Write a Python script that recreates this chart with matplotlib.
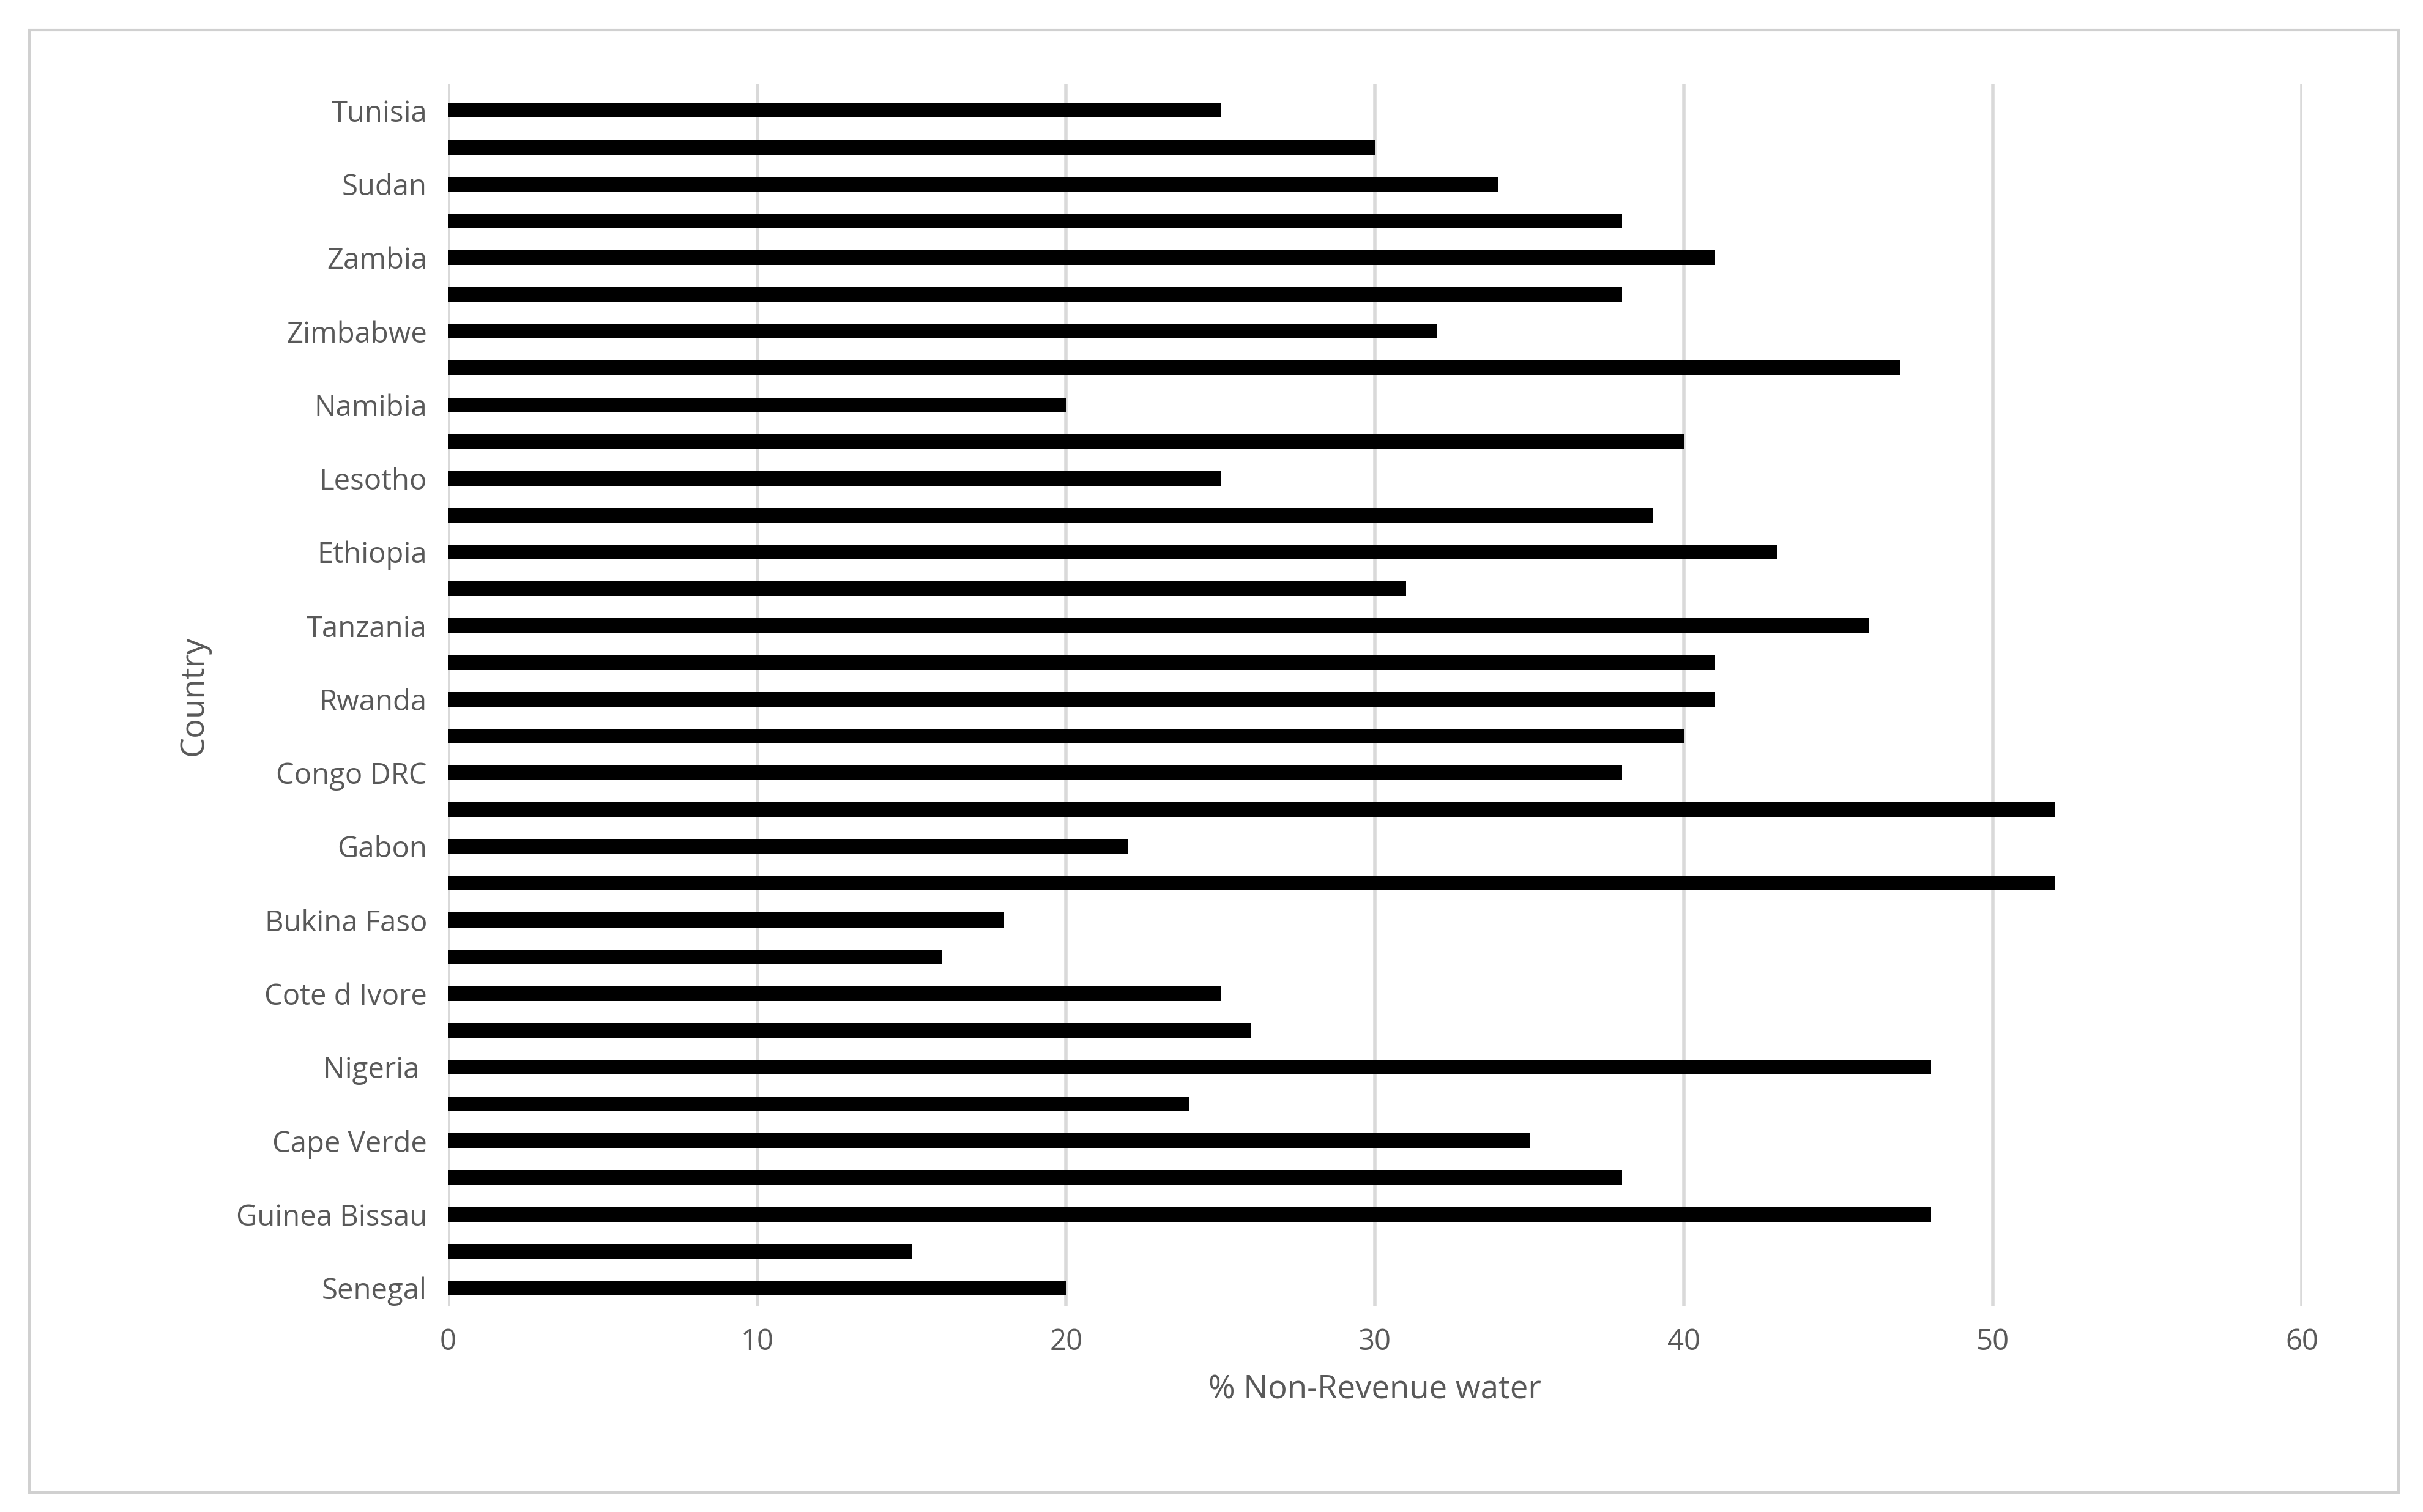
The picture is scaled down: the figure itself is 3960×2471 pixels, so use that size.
import matplotlib
matplotlib.use("Agg")
import matplotlib.pyplot as plt
from matplotlib.patches import Rectangle

countries = ["Tunisia", "", "Sudan", "", "Zambia", "", "Zimbabwe", "", "Namibia", "",
             "Lesotho", "", "Ethiopia", "", "Tanzania", "", "Rwanda", "", "Congo DRC", "",
             "Gabon", "", "Bukina Faso", "", "Cote d Ivore", "", "Nigeria ", "", "Cape Verde", "",
             "Guinea Bissau", "", "Senegal"]
values = [25, 30, 34, 38, 41, 38, 32, 47, 20, 40, 25, 39, 43, 31, 46, 41, 41, 40, 38, 52,
          22, 52, 18, 16, 25, 26, 48, 24, 35, 38, 48, 15, 20]
xticks = [0, 10, 20, 30, 40, 50, 60]

plt.rcParams['font.family'] = ['Open Sans', 'DejaVu Sans']
gray = "#595959"
fig = plt.figure(figsize=(39.6, 24.71), dpi=100)
fig.patches.append(Rectangle((0.012, 0.013), 0.978, 0.967, transform=fig.transFigure,
                             fill=False, edgecolor="#d0d0d0", linewidth=3))
ax = fig.add_axes([0.185, 0.136, 0.765, 0.808])
n = len(values)
ypos = list(range(n - 1, -1, -1))
ax.barh(ypos, values, height=0.4, color="black", zorder=3)
ax.set_yticks(ypos)
ax.set_yticklabels(countries, fontsize=34, color=gray)
ax.set_xticks(xticks)
ax.set_xticklabels([str(t) for t in xticks], fontsize=34, color=gray)
ax.set_xlim(0, 60)
ax.set_ylim(-0.5, n - 0.5 + 0.2)
ax.grid(axis="x", color="#d9d9d9", linewidth=4, zorder=0)
for s in ax.spines.values():
    s.set_visible(False)
ax.tick_params(length=0, pad=25)
ax.set_xlabel("% Non-Revenue water", fontsize=38, color=gray, labelpad=20)
ax.set_ylabel("Country", fontsize=38, color=gray, labelpad=30)
fig.savefig("out.png", dpi=100)
